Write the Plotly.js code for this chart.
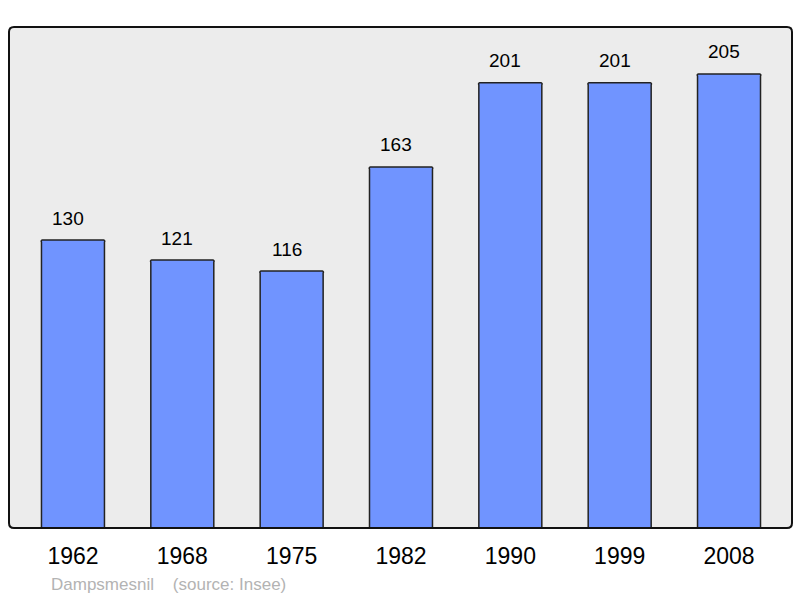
<!DOCTYPE html>
<html><head><meta charset="utf-8">
<script src="https://cdn.plot.ly/plotly-3.0.1.min.js"></script>
<style>body{margin:0;background:#fff}#c{width:800px;height:598px}</style>
</head><body><div id="c"></div>
<script>
const years = ["1962","1968","1975","1982","1990","1999","2008"];
const population = [130,121,116,163,201,201,205];
const sourceText = "Dampsmesnil\u00a0\u00a0\u00a0\u00a0(source: Insee)";

const idx = years.map((_, i) => i);
const L = 9, T = 27, W = 783, H = 501;
const rx = 5 / W, ry = 5 / H;
const border = `M ${rx} 1 L ${1-rx} 1 Q 1 1 1 ${1-ry} L 1 ${ry} Q 1 0 ${1-rx} 0 L ${rx} 0 Q 0 0 0 ${ry} L 0 ${1-ry} Q 0 1 ${rx} 1 Z`;
const FONT = 'Liberation Sans, Arial, sans-serif';

const valueLabels = population.map((v, i) => ({
  x: idx[i], y: v, xref: 'x', yref: 'y', text: String(v), showarrow: false,
  xanchor: 'center', yanchor: 'middle', xshift: -5, yshift: 22,
  font: {family: FONT, size: 19, color: '#000'}
}));

Plotly.newPlot('c', [{
  type: 'bar',
  x: idx,
  y: population,
  width: 0.576,
  textposition: 'none',
  marker: {color: '#7094ff', line: {color: '#222', width: 1.5}, cornerradius: 2},
  hoverinfo: 'none'
}], {
  width: 800, height: 598,
  margin: {l: L, r: 800 - L - W, t: T, b: 598 - T - H, pad: 0},
  paper_bgcolor: '#fff',
  plot_bgcolor: '#ececec',
  showlegend: false,
  bargap: 0,
  xaxis: {
    range: [-0.585, 6.576],
    tickvals: idx, ticktext: years,
    showgrid: false, zeroline: false, showline: false, ticks: '',
    tickfont: {family: FONT, size: 23, color: '#000'},
    ticklabelstandoff: 12,
    fixedrange: true
  },
  yaxis: {
    range: [0, 226.2],
    showgrid: false, zeroline: false, showline: false, showticklabels: false, ticks: '',
    fixedrange: true
  },
  shapes: [{
    type: 'path', xref: 'paper', yref: 'paper', path: border,
    line: {color: '#111', width: 2}, fillcolor: 'rgba(0,0,0,0)', layer: 'above'
  }],
  annotations: valueLabels.concat([{
    xref: 'paper', yref: 'paper', x: (49 - L) / W, y: (T + H - 584) / H,
    xanchor: 'left', yanchor: 'middle', showarrow: false,
    text: sourceText,
    font: {family: FONT, size: 17, color: '#b3b3b3'}
  }])
}, {staticPlot: true});
</script></body></html>
